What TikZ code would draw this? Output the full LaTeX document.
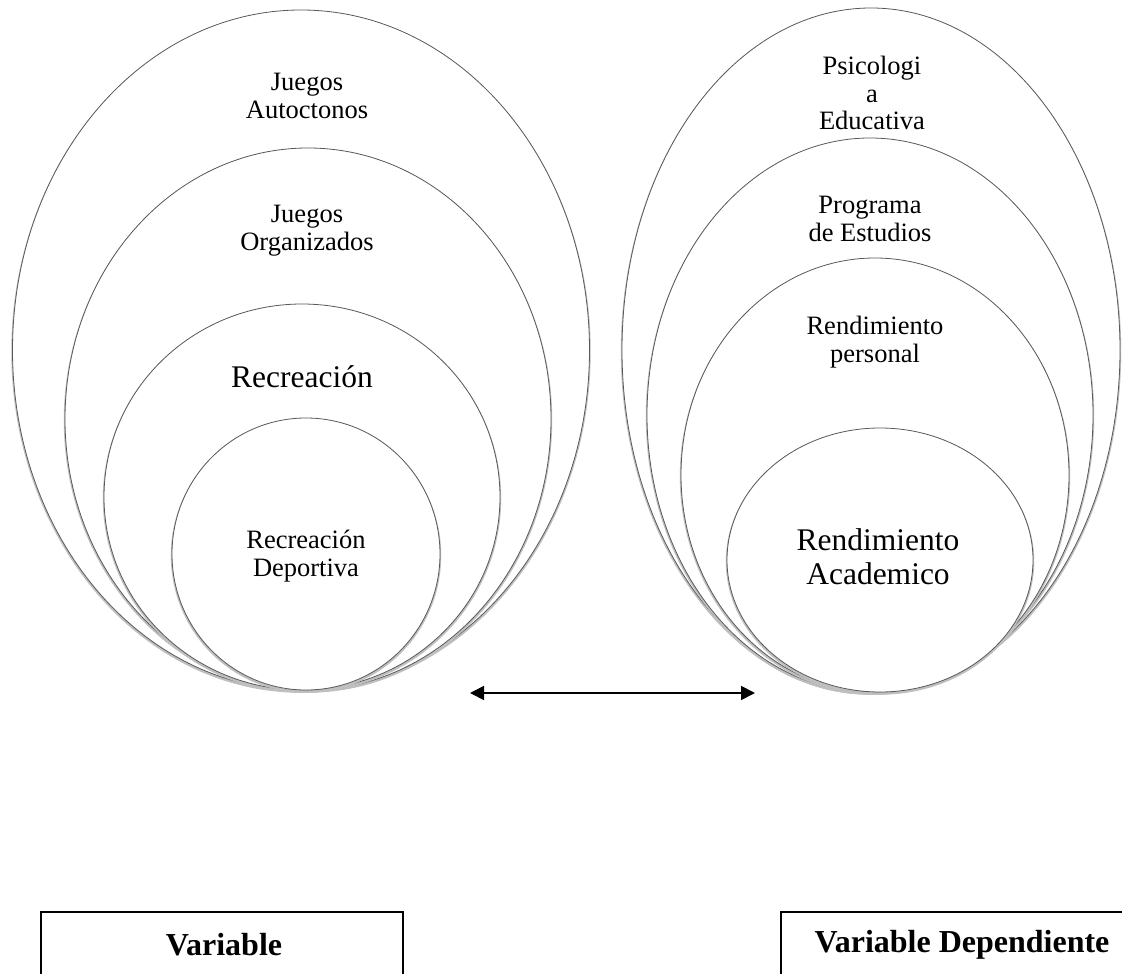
\documentclass[tikz,border=0pt]{standalone}
\usepackage{fontspec}
\setmainfont{Liberation Serif}
\usetikzlibrary{shapes.geometric,arrows.meta}
\begin{document}
\begin{tikzpicture}[x=1pt,y=-1pt,
  ell/.style={ellipse,draw=black!65,line width=0.8pt,fill=white,inner sep=0pt,outer sep=0pt,
    preaction={draw=black!25,line width=2.4pt,transform canvas={yshift=-1.5pt}}},
  small/.style={align=center,inner sep=0pt,font=\fontsize{26.5}{28}\selectfont},
  smallr/.style={align=center,inner sep=0pt,font=\fontsize{26.5}{27.5}\selectfont},
  big/.style={align=center,inner sep=0pt,font=\fontsize{31.5}{34}\selectfont},
  box/.style={draw=black,line width=1.8pt,inner sep=0pt},
  boxtext/.style={inner sep=0pt,font=\fontsize{32}{34}\selectfont\bfseries},
  arr/.style={line width=1.8pt,{Triangle[length=14pt,width=14pt]}-{Triangle[length=14pt,width=14pt]}}
]
\clip (0,0) rectangle (1122,974);
\fill[white] (0,0) rectangle (1122,974);
% left group
\node[ell,minimum width=577pt,minimum height=680pt] (e1) at (301,350) {};
\node[ell,minimum width=486pt,minimum height=542pt] (e2) at (308,419) {};
\node[ell,minimum width=396pt,minimum height=386pt] (e3) at (302,497) {};
\node[ell,minimum width=268pt,minimum height=272pt] (e4) at (306,554) {};
% right group
\node[ell,minimum width=498pt,minimum height=684pt] (f1) at (871,350) {};
\node[ell,minimum width=446pt,minimum height=554pt] (f2) at (870,415) {};
\node[ell,minimum width=388pt,minimum height=434pt] (f3) at (875,475) {};
\node[ell,minimum width=306pt,minimum height=264pt] (f4) at (880,560) {};
% texts left
\node[small] (t1) at (307,96) {Juegos\\Autoctonos};
\node[small] (t2) at (307,231) {Juegos\\Organizados};
\node[big,anchor=base] (t3) at (302,387) {Recreación};
\node[small] (t4) at (306,556) {Recreación\\Deportiva};
% texts right
\node[smallr] (u1) at (872,93) {Psicologi\\a\\Educativa};
\node[smallr] (u2) at (870,219) {Programa\\de Estudios};
\node[smallr] (u3) at (875,342) {Rendimiento\\personal};
\node[big] (u4) at (878,557) {Rendimiento\\Academico};
% arrow
\coordinate (a1) at (470,693);
\coordinate (a2) at (755,693);
\draw[arr] (a1) -- (a2);
% boxes
\node[box,minimum width=362pt,minimum height=140pt] (b1) at (222,982) {};
\node[box,minimum width=400pt,minimum height=140pt] (b2) at (981,982) {};
\node[boxtext] (l1) at (224,945) {Variable};
\node[boxtext] (l2) at (962,945) {Variable Dependiente};
\end{tikzpicture}
\end{document}
